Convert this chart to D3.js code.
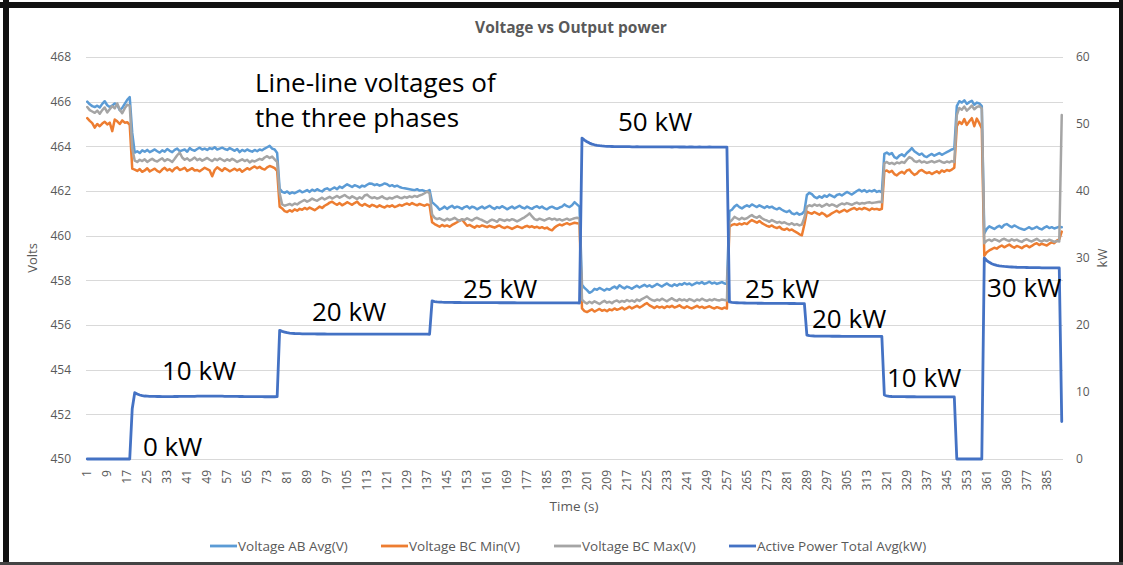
<!DOCTYPE html>
<html>
  <head>
    <style>
    body {
      font-family: "Open Sans", sans-serif;
      margin: 0;
      background: #fff;
    }
    </style>
  </head>
  <body>
    <script src="https://cdnjs.cloudflare.com/ajax/libs/d3/7.8.5/d3.min.js"></script>
    <script>
    var width = 1123, height = 565;

    // x categories are the seconds 1..391
    var times = d3.range(1, 392);
    var timeTicks = [1, 9, 17, 25, 33, 41, 49, 57, 65, 73, 81, 89, 97, 105, 113, 121, 129, 137, 145, 153,
        161, 169, 177, 185, 193, 201, 209, 217, 225, 233, 241, 249, 257, 265, 273, 281, 289, 297, 305,
        313, 321, 329, 337, 345, 353, 361, 369, 377, 385];

    var voltTicks = [450, 452, 454, 456, 458, 460, 462, 464, 466, 468];
    var kwTicks = [0, 10, 20, 30, 40, 50, 60];

    var seriesNames = ["Voltage AB Avg(V)", "Voltage BC Min(V)", "Voltage BC Max(V)", "Active Power Total Avg(kW)"];

    var voltageAB = [
      466.00, 465.88, 465.80, 465.76, 465.82, 465.74, 465.90, 466.02, 465.84, 465.76, 465.82, 465.92, 465.86, 465.62, 465.72, 465.90, 466.08, 466.20,
      464.60,
      463.72, 463.78, 463.70, 463.82, 463.76, 463.84, 463.74, 463.80, 463.86, 463.78,
      463.72, 463.82, 463.76, 463.88, 463.80, 463.74, 463.84, 463.90, 463.78, 463.82,
      463.86, 463.76, 463.92, 463.84, 463.80, 463.88, 463.94, 463.86, 463.90, 463.84,
      463.92, 463.88, 463.96, 463.86, 463.90, 463.94, 463.88, 463.84, 463.92, 463.86,
      463.80, 463.88, 463.74, 463.84, 463.78, 463.86, 463.80, 463.76, 463.84, 463.78,
      463.86, 463.82, 463.90, 463.96, 464.02, 463.90, 463.86, 463.70,
      462.10,
      461.96, 461.92, 461.98, 461.88, 461.94, 461.90, 461.96, 462.02, 461.94, 461.98,
      462.04, 461.96, 462.06, 462.00, 462.08, 462.02, 461.98, 462.08, 462.12, 462.04,
      462.10, 462.16, 462.08, 462.20, 462.14, 462.22, 462.30, 462.24, 462.18, 462.26,
      462.22, 462.16, 462.24, 462.20, 462.28, 462.34, 462.32, 462.26, 462.30, 462.24,
      462.28, 462.34, 462.30, 462.22, 462.26, 462.20, 462.24, 462.18, 462.14, 462.12,
      462.10, 462.08, 462.06, 462.04, 462.08, 462.02, 462.04, 462.00, 461.98, 462.04,
      461.50, 461.40, 461.30, 461.16, 461.22, 461.30, 461.20, 461.28, 461.34, 461.24,
      461.30, 461.26, 461.20, 461.28, 461.32, 461.22, 461.30, 461.26, 461.18, 461.24,
      461.30, 461.22, 461.28, 461.34, 461.26, 461.20, 461.28, 461.24, 461.32, 461.26,
      461.18, 461.24, 461.30, 461.22, 461.28, 461.34, 461.26, 461.22, 461.30, 461.24,
      461.20, 461.28, 461.32, 461.24, 461.30, 461.22, 461.18, 461.26, 461.30, 461.24,
      461.20, 461.26, 461.30, 461.40, 461.32, 461.28, 461.36, 461.50, 461.40, 461.30,
      457.80, 457.66, 457.56, 457.44, 457.50, 457.62, 457.58, 457.66, 457.60, 457.54,
      457.62, 457.58, 457.66, 457.72, 457.64, 457.78, 457.70, 457.64, 457.72, 457.68,
      457.62, 457.70, 457.76, 457.68, 457.74, 457.80, 457.72, 457.78, 457.70, 457.76,
      457.84, 457.78, 457.72, 457.80, 457.86, 457.78, 457.74, 457.82, 457.76, 457.84,
      457.80, 457.88, 457.82, 457.86, 457.78, 457.84, 457.90, 457.86, 457.92, 457.84,
      457.88, 457.94, 457.86, 457.90, 457.84, 457.88, 457.92, 457.86, 457.84,
      461.10, 461.16, 461.30, 461.38, 461.28, 461.22, 461.30, 461.36, 461.30, 461.40,
      461.34, 461.28, 461.36, 461.30, 461.24, 461.32, 461.26, 461.30, 461.22, 461.18,
      461.24, 461.16, 461.10, 461.06, 461.12, 461.00, 460.96, 461.02, 460.94, 460.98, 461.10,
      461.82, 461.92, 461.86, 461.74, 461.68, 461.76, 461.70, 461.80, 461.74, 461.84,
      461.78, 461.72, 461.82, 461.86, 461.80, 461.88, 461.96, 461.90, 461.84, 461.92,
      462.00, 462.06, 461.98, 462.04, 461.96, 462.02, 461.98, 462.04, 461.96, 462.00, 461.94,
      463.66, 463.72, 463.64, 463.70, 463.52, 463.46, 463.58, 463.64, 463.56, 463.70,
      463.80, 463.92, 463.78, 463.70, 463.62, 463.68, 463.56, 463.52, 463.60, 463.66,
      463.58, 463.64, 463.70, 463.62, 463.68, 463.74, 463.80, 463.86, 463.90,
      465.80, 466.02, 465.96, 466.06, 465.90, 465.98, 466.04, 465.86, 465.96, 465.92, 465.80,
      460.10, 460.30, 460.42, 460.36, 460.30, 460.38, 460.44, 460.36, 460.48, 460.52,
      460.44, 460.38, 460.46, 460.40, 460.34, 460.30, 460.26, 460.32, 460.38, 460.30,
      460.34, 460.40, 460.32, 460.28, 460.36, 460.42, 460.34, 460.38, 460.32, 460.36,
      460.40, 460.38
    ];

    var voltageBCMin = [
      465.26, 465.14, 465.04, 464.84, 465.00, 464.90, 465.02, 465.10, 464.98, 465.06, 464.68, 465.20, 465.12, 465.00, 465.16, 465.06, 465.08, 464.96,
      463.00,
      462.96, 462.90, 462.98, 462.86, 462.92, 463.02, 462.88, 462.94, 463.00, 462.90,
      462.84, 462.96, 463.04, 462.92, 462.98, 462.88, 463.00, 463.06, 462.94, 462.98,
      463.04, 462.90, 462.96, 463.02, 462.92, 462.94, 462.88, 462.96, 463.04, 462.98,
      462.92, 462.66, 462.94, 463.06, 462.98, 462.90, 463.02, 462.96, 462.88, 462.94,
      463.00, 462.92, 462.98, 462.86, 462.94, 463.02, 462.96, 463.04, 463.10, 463.02,
      463.08, 463.00, 462.96, 463.06, 463.12, 463.08, 463.02, 462.90,
      461.30,
      461.22, 461.10, 461.06, 461.14, 461.08, 461.18, 461.12, 461.20, 461.16, 461.24,
      461.18, 461.26, 461.20, 461.14, 461.22, 461.30, 461.24, 461.34, 461.40, 461.48,
      461.52, 461.44, 461.38, 461.46, 461.36, 461.42, 461.50, 461.44, 461.38, 461.46,
      461.52, 461.40, 461.34, 461.42, 461.36, 461.30, 461.38, 461.34, 461.28, 461.36,
      461.30, 461.26, 461.34, 461.30, 461.36, 461.28, 461.32, 461.38, 461.34, 461.40,
      461.44, 461.38, 461.46, 461.40, 461.36, 461.42, 461.38, 461.34, 461.40, 461.36,
      460.60, 460.52, 460.46, 460.40, 460.48, 460.42, 460.46, 460.40, 460.48, 460.54,
      460.60, 460.68, 460.72, 460.58, 460.44, 460.48, 460.42, 460.36, 460.44, 460.40,
      460.46, 460.42, 460.38, 460.44, 460.40, 460.36, 460.42, 460.46, 460.38, 460.34,
      460.40, 460.36, 460.30, 460.36, 460.42, 460.38, 460.34, 460.40, 460.44, 460.38,
      460.42, 460.36, 460.40, 460.34, 460.38, 460.32, 460.36, 460.28, 460.24, 460.36,
      460.44, 460.50, 460.46, 460.52, 460.56, 460.50, 460.54, 460.58, 460.56, 460.54,
      456.74, 456.62, 456.58, 456.64, 456.70, 456.60, 456.66, 456.72, 456.64, 456.68,
      456.62, 456.70, 456.66, 456.74, 456.68, 456.72, 456.78, 456.70, 456.76, 456.82,
      456.74, 456.80, 456.86, 456.78, 456.84, 456.92, 456.98, 456.88, 456.82, 456.76,
      456.84, 456.78, 456.82, 456.76, 456.84, 456.80, 456.86, 456.78, 456.82, 456.88,
      456.80, 456.76, 456.84, 456.78, 456.74, 456.80, 456.86, 456.78, 456.82, 456.76,
      456.80, 456.84, 456.78, 456.74, 456.80, 456.76, 456.72, 456.78, 456.74,
      460.40, 460.48, 460.52, 460.48, 460.54, 460.50, 460.56, 460.52, 460.62, 460.70,
      460.64, 460.58, 460.66, 460.56, 460.50, 460.44, 460.40, 460.46, 460.38, 460.34,
      460.40, 460.30, 460.26, 460.32, 460.24, 460.28, 460.20, 460.14, 460.06, 460.02, 460.50,
      461.08, 461.02, 460.98, 461.06, 461.00, 460.94, 461.02, 460.96, 460.86, 460.92,
      461.00, 461.06, 461.12, 461.04, 461.10, 461.16, 461.08, 461.14, 461.20, 461.24,
      461.16, 461.22, 461.18, 461.24, 461.20, 461.14, 461.22, 461.18, 461.20, 461.16, 461.20,
      462.88, 462.92, 462.84, 462.90, 462.76, 462.70, 462.80, 462.86, 462.78, 462.92,
      462.96, 462.82, 462.72, 462.78, 462.90, 462.94, 462.86, 462.80, 462.84, 462.76,
      462.82, 462.88, 462.80, 462.92, 462.86, 462.94, 462.90, 462.96, 463.04,
      464.90, 465.10, 465.00, 465.22, 464.96, 465.12, 465.26, 464.90, 465.24, 465.04, 464.80,
      459.10, 459.26, 459.34, 459.40, 459.46, 459.42, 459.50, 459.56, 459.48, 459.54,
      459.60, 459.52, 459.46, 459.54, 459.50, 459.44, 459.52, 459.56, 459.48, 459.54,
      459.62, 459.66, 459.58, 459.64, 459.60, 459.56, 459.64, 459.70, 459.66, 459.78,
      459.84, 460.18
    ];

    var voltageBCMax = [
      465.76, 465.62, 465.56, 465.50, 465.60, 465.46, 465.62, 465.74, 465.52, 465.66, 465.80, 465.70, 465.92, 465.64, 465.48, 465.70, 465.86, 465.82,
      463.90,
      463.36, 463.30, 463.40, 463.34, 463.42, 463.30, 463.38, 463.44, 463.36, 463.32,
      463.40, 463.46, 463.34, 463.42, 463.38, 463.30, 463.44, 463.60, 463.72, 463.50,
      463.40, 463.46, 463.36, 463.42, 463.50, 463.38, 463.44, 463.36, 463.42, 463.48,
      463.40, 463.34, 463.44, 463.38, 463.46, 463.40, 463.34, 463.42, 463.36, 463.44,
      463.38, 463.30, 463.36, 463.42, 463.34, 463.40, 463.28, 463.36, 463.32, 463.38,
      463.44, 463.40, 463.50, 463.56, 463.48, 463.54, 463.42, 463.30,
      461.90,
      461.40, 461.34, 461.38, 461.42, 461.36, 461.44, 461.40, 461.48, 461.54, 461.60,
      461.52, 461.58, 461.66, 461.60, 461.56, 461.64, 461.70, 461.62, 461.68, 461.74,
      461.66, 461.72, 461.78, 461.70, 461.76, 461.82, 461.74, 461.68, 461.76, 461.70,
      461.64, 461.72, 461.66, 461.80, 461.84, 461.74, 461.68, 461.72, 461.66, 461.70,
      461.76, 461.68, 461.64, 461.70, 461.66, 461.72, 461.76, 461.70, 461.68, 461.74,
      461.70, 461.76, 461.72, 461.78, 461.74, 461.80, 461.84, 461.90, 461.98, 461.90,
      460.95, 460.80, 460.74, 460.78, 460.72, 460.68, 460.76, 460.70, 460.74, 460.80,
      460.72, 460.66, 460.74, 460.70, 460.78, 460.72, 460.68, 460.76, 460.80, 460.74,
      460.70, 460.64, 460.58, 460.66, 460.72, 460.68, 460.62, 460.74, 460.70, 460.66,
      460.72, 460.68, 460.74, 460.70, 460.64, 460.70, 460.76, 460.82, 460.90, 461.00,
      460.86, 460.74, 460.70, 460.76, 460.72, 460.68, 460.74, 460.78, 460.72, 460.76,
      460.70, 460.74, 460.68, 460.72, 460.76, 460.70, 460.74, 460.78, 460.80, 460.76,
      457.14, 457.02, 456.96, 457.04, 456.98, 457.06, 457.00, 456.94, 457.02, 457.08,
      457.00, 457.04, 456.98, 457.06, 457.10, 457.02, 457.08, 457.04, 457.12, 457.06,
      457.10, 457.04, 457.14, 457.08, 457.16, 457.22, 457.28, 457.18, 457.12, 457.08,
      457.14, 457.10, 457.18, 457.12, 457.06, 457.14, 457.20, 457.12, 457.08, 457.16,
      457.10, 457.14, 457.08, 457.16, 457.12, 457.06, 457.14, 457.10, 457.18, 457.12,
      457.08, 457.14, 457.10, 457.16, 457.12, 457.10, 457.14, 457.12, 457.10,
      460.60, 460.70, 460.84, 460.78, 460.72, 460.80, 460.74, 460.78, 460.86, 460.92,
      460.84, 460.80, 460.88, 460.78, 460.72, 460.68, 460.62, 460.70, 460.64, 460.58,
      460.62, 460.56, 460.60, 460.54, 460.50, 460.56, 460.48, 460.52, 460.46, 460.50, 460.80,
      461.30, 461.36, 461.32, 461.40, 461.34, 461.38, 461.30, 461.36, 461.42, 461.34,
      461.40, 461.36, 461.30, 461.38, 461.44, 461.40, 461.46, 461.42, 461.38, 461.44,
      461.48, 461.42, 461.46, 461.44, 461.48, 461.50, 461.46, 461.48, 461.50, 461.52, 461.50,
      463.24, 463.30, 463.22, 463.26, 463.20, 463.28, 463.24, 463.30, 463.26, 463.40,
      463.52, 463.46, 463.34, 463.30, 463.36, 463.28, 463.32, 463.26, 463.30, 463.34,
      463.28, 463.32, 463.36, 463.30, 463.26, 463.32, 463.28, 463.34, 463.30,
      465.40, 465.72, 465.64, 465.78, 465.60, 465.70, 465.82, 465.66, 465.76, 465.80, 465.70,
      459.66, 459.78, 459.82, 459.76, 459.84, 459.80, 459.74, 459.82, 459.86, 459.80,
      459.76, 459.84, 459.78, 459.82, 459.76, 459.72, 459.80, 459.84, 459.78, 459.74,
      459.80, 459.86, 459.78, 459.74, 459.80, 459.76, 459.82, 459.78, 459.72, 459.76,
      459.74, 465.40
    ];

    var powerTotal = [
      0, 0, 0, 0, 0, 0, 0, 0, 0, 0, 0, 0, 0, 0, 0, 0, 0, 0,
      7.5,
      9.9, 9.7, 9.55, 9.45, 9.4, 9.38, 9.36, 9.35, 9.34, 9.33,
      9.33, 9.32, 9.32, 9.31, 9.31, 9.32, 9.33, 9.33, 9.34, 9.34,
      9.35, 9.35, 9.36, 9.36, 9.36, 9.37, 9.37, 9.37, 9.38, 9.38,
      9.38, 9.38, 9.38, 9.37, 9.37, 9.37, 9.36, 9.36, 9.35, 9.35,
      9.34, 9.34, 9.33, 9.33, 9.32, 9.32, 9.31, 9.31, 9.30, 9.30,
      9.30, 9.30, 9.29, 9.29, 9.29, 9.29, 9.29, 9.30,
      19.2, 19.05, 18.95, 18.85, 18.8, 18.76, 18.73, 18.71, 18.7, 18.69,
      18.68, 18.68, 18.67, 18.67, 18.67, 18.66, 18.66, 18.66, 18.66, 18.65,
      18.65, 18.65, 18.65, 18.65, 18.64, 18.64, 18.64, 18.64, 18.64, 18.64,
      18.64, 18.64, 18.64, 18.64, 18.63, 18.63, 18.63, 18.63, 18.63, 18.63,
      18.63, 18.63, 18.63, 18.63, 18.63, 18.63, 18.63, 18.63, 18.63, 18.63,
      18.63, 18.63, 18.63, 18.63, 18.63, 18.63, 18.63, 18.63, 18.63, 18.63, 18.62,
      23.6, 23.5, 23.45, 23.42, 23.4, 23.39, 23.38, 23.37, 23.37, 23.36,
      23.36, 23.36, 23.35, 23.35, 23.35, 23.35, 23.34, 23.34, 23.34, 23.34,
      23.34, 23.33, 23.33, 23.33, 23.33, 23.33, 23.33, 23.32, 23.32, 23.32,
      23.32, 23.32, 23.32, 23.32, 23.31, 23.31, 23.31, 23.31, 23.31, 23.31,
      23.31, 23.30, 23.30, 23.30, 23.30, 23.30, 23.30, 23.30, 23.30, 23.30,
      23.29, 23.29, 23.29, 23.29, 23.29, 23.29, 23.29, 23.29, 23.29, 23.28,
      47.9, 47.6, 47.35, 47.15, 47.0, 46.9, 46.82, 46.76, 46.72, 46.69,
      46.67, 46.65, 46.64, 46.63, 46.62, 46.62, 46.61, 46.61, 46.62, 46.61,
      46.6, 46.6, 46.61, 46.6, 46.59, 46.6, 46.6, 46.59, 46.58, 46.6,
      46.59, 46.58, 46.58, 46.59, 46.6, 46.58, 46.57, 46.58, 46.58, 46.57,
      46.58, 46.57, 46.56, 46.57, 46.58, 46.56, 46.56, 46.57, 46.56, 46.55,
      46.56, 46.57, 46.55, 46.56, 46.55, 46.55, 46.56, 46.55, 46.55,
      23.45, 23.38, 23.34, 23.32, 23.3, 23.29, 23.28, 23.27, 23.27, 23.26,
      23.26, 23.25, 23.25, 23.25, 23.24, 23.24, 23.24, 23.23, 23.23, 23.23,
      23.22, 23.22, 23.22, 23.22, 23.21, 23.21, 23.21, 23.2, 23.2, 23.2, 23.2,
      18.5, 18.42, 18.38, 18.36, 18.35, 18.34, 18.34, 18.33, 18.33, 18.33,
      18.32, 18.32, 18.32, 18.32, 18.31, 18.31, 18.31, 18.31, 18.31, 18.31,
      18.31, 18.3, 18.3, 18.3, 18.3, 18.3, 18.3, 18.3, 18.3, 18.3, 18.3,
      9.55, 9.42, 9.36, 9.33, 9.32, 9.31, 9.3, 9.3, 9.3, 9.29,
      9.29, 9.29, 9.29, 9.28, 9.28, 9.28, 9.28, 9.28, 9.28, 9.27,
      9.27, 9.27, 9.27, 9.27, 9.27, 9.27, 9.26, 9.26, 9.26,
      0, 0, 0, 0, 0, 0, 0, 0, 0, 0, 0,
      30.0, 29.62, 29.35, 29.15, 29.0, 28.9, 28.83, 28.78, 28.74, 28.71,
      28.68, 28.66, 28.64, 28.62, 28.61, 28.6, 28.59, 28.58, 28.57, 28.56,
      28.56, 28.55, 28.55, 28.54, 28.54, 28.53, 28.53, 28.52, 28.52, 28.52, 28.51,
      5.6
    ];

    var noteText = ["Line-line voltages of", "the three phases", "50 kW", "0 kW", "10 kW", "20 kW",
        "25 kW", "25 kW", "20 kW", "10 kW", "30 kW"];
    var notePos = [[255, 92], [255, 127], [618, 131], [143, 456], [162, 380], [312, 321],
        [463, 298], [745, 298], [812, 328], [887, 387], [987, 297]];

    var colors = ["#5b9bd5", "#ed7d31", "#a5a5a5", "#4472c4"];
    var textGray = "#595959";

    var plotLeft = 86, plotRight = 1063, plotTop = 57, plotBottom = 459;

    var x = d3.scaleBand()
        .domain(times)
        .range([plotLeft, plotRight]);

    var yVolt = d3.scaleLinear()
        .domain([450, 468])
        .range([plotBottom, plotTop]);

    var yKw = d3.scaleLinear()
        .domain([0, 60])
        .range([plotBottom, plotTop]);

    var svg = d3.select("body").append("svg")
        .attr("width", width)
        .attr("height", height)
        .style("display", "block");

    svg.append("rect")
        .attr("width", width)
        .attr("height", height)
        .attr("fill", "#fff");

    // screenshot frame
    svg.append("line").attr("x1", 0).attr("x2", width).attr("y1", 5).attr("y2", 5)
        .attr("stroke", "#111").attr("stroke-width", 6);
    svg.append("line").attr("x1", 6).attr("x2", 6).attr("y1", 0).attr("y2", height)
        .attr("stroke", "#111").attr("stroke-width", 6);
    svg.append("line").attr("x1", 1121).attr("x2", 1121).attr("y1", 0).attr("y2", height)
        .attr("stroke", "#111").attr("stroke-width", 4);
    svg.append("line").attr("x1", 0).attr("x2", width).attr("y1", 563.5).attr("y2", 563.5)
        .attr("stroke", "#444").attr("stroke-width", 3);

    svg.append("g")
        .selectAll("line")
        .data(voltTicks)
        .enter().append("line")
        .attr("x1", plotLeft)
        .attr("x2", plotRight)
        .attr("y1", function(d) { return Math.round(yVolt(d)) + 0.5; })
        .attr("y2", function(d) { return Math.round(yVolt(d)) + 0.5; })
        .attr("stroke", "#d9d9d9")
        .attr("stroke-width", 1);

    var axisL = svg.append("g")
        .attr("transform", "translate(" + plotLeft + ",0)")
        .call(d3.axisLeft(yVolt).tickValues(voltTicks).tickSize(0).tickPadding(15));

    var axisR = svg.append("g")
        .attr("transform", "translate(" + plotRight + ",0)")
        .call(d3.axisRight(yKw).tickValues(kwTicks).tickSize(0).tickPadding(13));

    var axisX = svg.append("g")
        .attr("transform", "translate(0,466)")
        .call(d3.axisBottom(x).tickValues(timeTicks).tickSize(0));

    axisX.selectAll("text")
        .attr("transform", "rotate(-90)")
        .attr("x", -4)
        .attr("y", 0)
        .attr("dy", "0.35em")
        .style("text-anchor", "end");

    [axisL, axisR, axisX].forEach(function(a) {
      a.select(".domain").remove();
      a.selectAll("text")
          .attr("fill", textGray)
          .style("font-family", "'Open Sans', sans-serif")
          .style("font-size", "12px");
    });

    svg.append("text")
        .attr("x", 571)
        .attr("y", 33)
        .attr("text-anchor", "middle")
        .attr("fill", textGray)
        .style("font-size", "15.5px")
        .style("font-weight", "bold")
        .text("Voltage vs Output power");

    svg.append("text")
        .attr("transform", "translate(37,258) rotate(-90)")
        .attr("text-anchor", "middle")
        .attr("fill", textGray)
        .style("font-size", "13px")
        .text("Volts");

    svg.append("text")
        .attr("transform", "translate(1107,258) rotate(-90)")
        .attr("text-anchor", "middle")
        .attr("fill", textGray)
        .style("font-size", "13px")
        .text("kW");

    svg.append("text")
        .attr("x", 574)
        .attr("y", 511)
        .attr("text-anchor", "middle")
        .attr("fill", textGray)
        .style("font-size", "13.5px")
        .text("Time (s)");

    var cx = function(d, i) { return x(times[i]) + x.bandwidth() / 2; };

    var voltLine = d3.line()
        .x(cx)
        .y(function(d) { return yVolt(d); });

    var kwLine = d3.line()
        .x(cx)
        .y(function(d) { return yKw(d); });

    [voltageAB, voltageBCMin, voltageBCMax].forEach(function(series, k) {
      svg.append("path")
          .datum(series)
          .attr("d", voltLine)
          .attr("fill", "none")
          .attr("stroke", colors[k])
          .attr("stroke-width", 2.5)
          .attr("stroke-linejoin", "round")
          .attr("stroke-linecap", "round");
    });

    svg.append("path")
        .datum(powerTotal)
        .attr("d", kwLine)
        .attr("fill", "none")
        .attr("stroke", colors[3])
        .attr("stroke-width", 2.8)
        .attr("stroke-linejoin", "round")
        .attr("stroke-linecap", "round");

    svg.append("g")
        .selectAll("text")
        .data(noteText)
        .enter().append("text")
        .attr("x", function(d, i) { return notePos[i][0]; })
        .attr("y", function(d, i) { return notePos[i][1]; })
        .attr("fill", "#000")
        .style("font-size", "26px")
        .text(function(d) { return d; });

    // legend
    var legendX = [210, 381, 554, 729];
    var legend = svg.append("g")
        .selectAll("g")
        .data(seriesNames)
        .enter().append("g")
        .attr("transform", function(d, i) { return "translate(" + legendX[i] + ",546)"; });

    legend.append("line")
        .attr("x1", 0)
        .attr("x2", 27)
        .attr("stroke", function(d, i) { return colors[i]; })
        .attr("stroke-width", 2.8);

    legend.append("text")
        .attr("x", 28)
        .attr("dy", "0.35em")
        .attr("fill", textGray)
        .style("font-size", "13.5px")
        .text(function(d) { return d; });
    </script>
  </body>
</html>
